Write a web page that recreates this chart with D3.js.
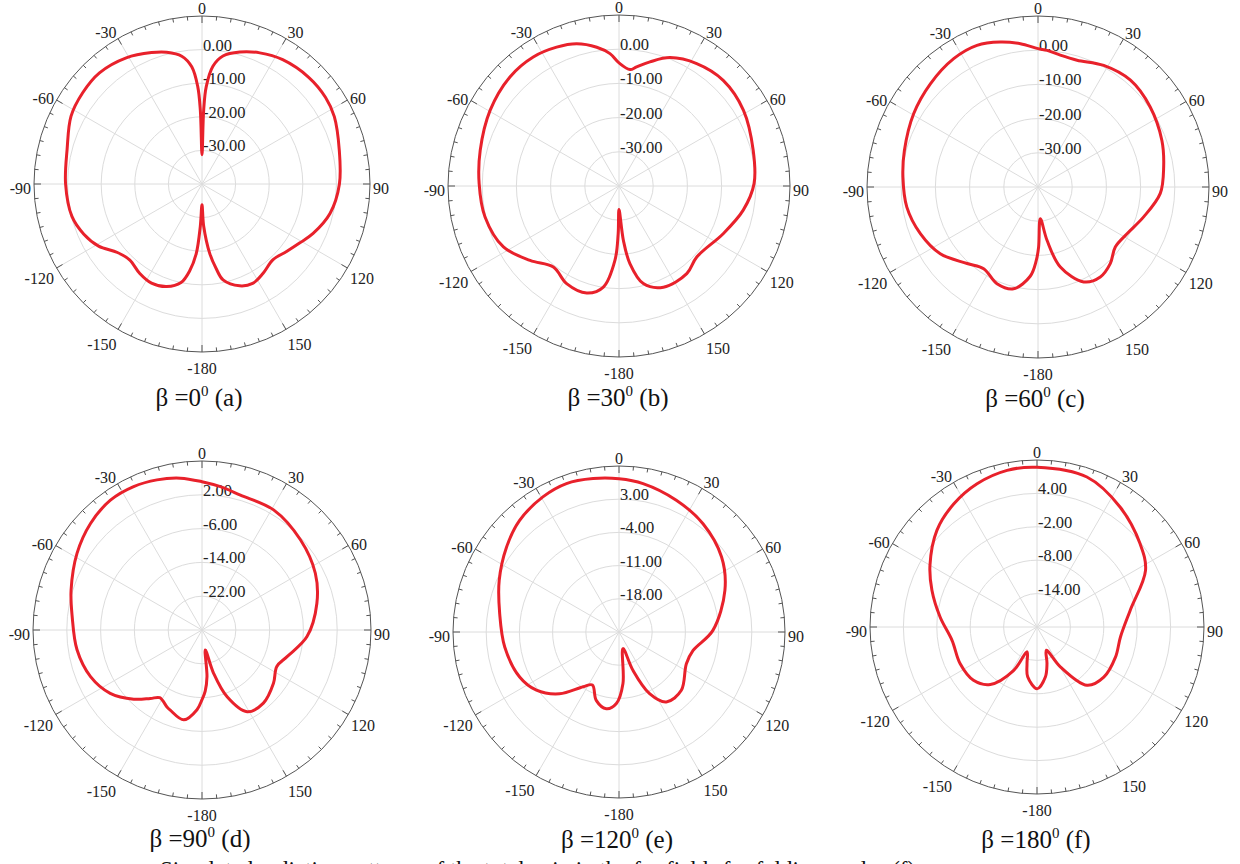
<!DOCTYPE html>
<html>
<head>
<meta charset="utf-8">
<script src="https://cdn.jsdelivr.net/npm/d3@7"></script>
<style>
  html, body { margin: 0; padding: 0; background: #fff; }
  svg { display: block; font-family: "Liberation Serif", "Times New Roman", serif; }
</style>
</head>
<body>
<svg id="chart" width="1240" height="864"></svg>
<script>
// gain (dB) against angle (deg)
const patternA = [
  [-180, -33.8], [-177.7, -27.4], [-175.3, -19.3], [-172, -14], [-168, -10], [-161, -7.7],
  [-153, -6.9], [-145, -7.6], [-136.3, -8.8], [-129, -7.6], [-121, -4.1], [-113, -1.8],
  [-104, -0.1], [-90, 0.6], [-75.6, 1.45], [-62.6, 3.9], [-52.6, 4.7], [-42.7, 5.0], [-31, 3.8],
  [-21, 1.9], [-15, 0.6], [-9, -1.5], [-5, -5], [-2.5, -11], [-1.3, -18], [0, -31.3],
  [1.3, -18], [2.5, -11], [5.3, -4.8], [9.3, -1.4], [16, 0.85], [23.8, 2.65], [33, 4.1],
  [45, 4.9], [55, 4.9], [63, 4.2], [76, 2.1], [90, 0.9], [103, -0.9], [114, -3.8],
  [121, -6.0], [128.6, -7.8], [136.8, -9.1], [145.6, -7.8], [153, -6.8], [159.7, -7.7],
  [167.6, -10.8], [170.5, -14.5], [173.7, -19.3], [177.7, -27.4]
]
const patternB = [
  [-180, -33.1], [-179, -26], [-176.9, -18.3], [-171.2, -10.1], [-163.2, -7.3], [-151.8, -7.6],
  [-141, -9.5], [-129.9, -6.1], [-117.8, -1.8], [-103, 0.2], [-89, 0.9], [-75.6, 1.9],
  [-59.6, 3.7], [-45, 5.1], [-33.6, 5.3], [-24.2, 4.5], [-16.6, 3.4], [-9.1, 1.1], [-3.9, -1.2],
  [0, -4.0], [5.4, -5.8], [8.4, -4.8], [14, -2.6], [21.7, 0.4], [32.4, 2.4], [44.6, 3.4],
  [58.7, 2.6], [75.1, 0.6], [89, -0.5], [101, -3.0], [114.6, -6.5], [132.4, -9.2],
  [142.3, -7.6], [156.3, -7.7], [166, -10.6], [172, -17.1], [175.4, -24.1]
]
const patternC = [
  [-178.7, -18.6], [-175, -13.8], [-166.5, -9.4], [-157, -9.3], [-146.4, -11.3], [-137.2, -9.5],
  [-124.3, -5.4], [-111.6, -3.0], [-98.7, -1.2], [-85.8, -0.4], [-74.7, 0.5], [-59.5, 2.2],
  [-46.2, 3.6], [-33.3, 4.9], [-23.3, 5.1], [-14.6, 3.8], [-7, 2.2], [0, 0.45], [3.8, 0.05],
  [9.6, -0.9], [17.1, -1.2], [28.4, 0.4], [40.9, 1.3], [54.5, 0.3], [69.4, -1.3], [81, -2.8],
  [93, -4.2], [105.8, -7.9], [117.7, -10.6], [127.8, -11.4], [136.7, -9.2], [145.3, -8.0],
  [154.3, -9.2], [164.4, -15.7], [170.4, -24.2], [175.8, -30.7], [179.4, -22.5]
]
const patternD = [
  [-180, -13.5], [-176.4, -11.1], [-168.5, -8.3], [-158.4, -9.6], [-155.5, -10.0], [-148, -11.1],
  [-143, -9.7], [-135.4, -7.0], [-124.6, -3.6], [-112.7, -1.4], [-99, -0.05], [-84, 0.9],
  [-73, 2.4], [-58.5, 4.7], [-46.3, 6.5], [-35.2, 7.6], [-25.5, 7.6], [-16.7, 7.1], [-8.1, 6.3],
  [0, 5.1], [7.3, 4.2], [15.9, 3.2], [30.8, 3.1], [47.5, 1.6], [63.4, 0], [77, -2.1],
  [93.6, -5.1], [107.4, -8.9], [116, -10.3], [126.7, -8.9], [140, -7.4], [151.1, -7.9],
  [159.4, -13.1], [165, -19.4], [170.5, -25.2], [173.9, -18.9], [177, -15.5]
]
const patternE = [
  [-177.9, -9.9], [-170.6, -8.6], [-161.6, -9.8], [-153.3, -12.5], [-146.8, -11.2], [-136.1, -6.9],
  [-125.2, -3.7], [-114.4, -2.0], [-97.5, -0.7], [-81.3, 0.45], [-66.7, 2.5], [-53, 4.7],
  [-41.7, 6.5], [-29.4, 7.7], [-19.5, 8.2], [-9.6, 7.8], [0, 7.3], [9.2, 6.7], [23.5, 5.3],
  [37.8, 3.9], [53.8, 1.8], [68.5, -1.0], [89, -5.2], [104, -8.9], [115.2, -9.3], [133.1, -7.0],
  [145.9, -7.2], [153.6, -10.5], [160, -16.4], [166.5, -21.4], [175.6, -14.1]
]
const patternF = [
  [-180, -8.9], [-169.4, -10.9], [-164.7, -13.2], [-158.2, -15.2], [-151.7, -11.1], [-140.9, -6.7],
  [-130, -5.1], [-115.6, -4.7], [-98.9, -4.55], [-84.1, -2.5], [-70.7, 0.0], [-60, 2.2],
  [-46, 5.0], [-34, 6.7], [-22.7, 7.9], [-10.8, 8.65], [0, 8.7], [18.4, 8.4], [34.8, 6.2],
  [51.1, 3.8], [62.4, 2.0], [79.9, -3.0], [96.8, -4.9], [111, -4.9], [126.9, -5.0],
  [139.4, -6.2], [149.7, -11.7], [158.2, -15.5], [164.7, -13.2], [170.5, -10.9]
]

// radial grid labels of each panel (dB)
const ringsA = [-30, -20, -10, 0]
const ringsB = [-30, -20, -10, 0]
const ringsC = [-30, -20, -10, 0]
const ringsD = [-22, -14, -6, 2]
const ringsE = [-18, -11, -4, 3]
const ringsF = [-14, -8, -2, 4]

const angleTicks = [0, 30, 60, 90, 120, 150, 180, -150, -120, -90, -60, -30]
const angleLabels = ['0', '30', '60', '90', '120', '150', '-180', '-150', '-120', '-90', '-60', '-30']
const betas = ['0', '30', '60', '90', '120', '180']
const letters = ['a', 'b', 'c', 'd', 'e', 'f']
const footnote = 'Simulated radiation patterns of the total gain in the far-fields for folding angles (f)'

const patterns = [patternA, patternB, patternC, patternD, patternE, patternF]
const rings = [ringsA, ringsB, ringsC, ringsD, ringsE, ringsF]

// panel frames: centre, outer radius, caption baseline
const frames = [
  { cx: 202, cy: 184, R: 168, capX: 199, capY: 406 },
  { cx: 619, cy: 186, R: 171, capX: 618, capY: 406 },
  { cx: 1038, cy: 187, R: 171, capX: 1035, capY: 407 },
  { cx: 202, cy: 630, R: 169, capX: 200, capY: 847 },
  { cx: 619, cy: 632, R: 166, capX: 617, capY: 848 },
  { cx: 1037, cy: 627, R: 167, capX: 1036, capY: 848 }
]

const svg = d3.select('#chart')
svg.append('rect').attr('width', 1240).attr('height', 864).attr('fill', '#fff')

const angle = d3.scaleLinear().domain([-180, 180]).range([-Math.PI, Math.PI])
const rad = deg => deg * Math.PI / 180

frames.forEach((f, i) => drawPanel(f, patterns[i], rings[i], betas[i], letters[i]))

// caption line of the page below, mostly cut off by the bottom edge
svg.append('text')
  .attr('x', 160).attr('y', 877)
  .attr('font-size', 23).attr('fill', '#111')
  .text(footnote)

function drawPanel (f, data, ringVals, beta, letter) {
  const step = ringVals[1] - ringVals[0]
  const r = d3.scaleLinear()
    .domain([ringVals[0] - step, ringVals[ringVals.length - 1] + step])
    .range([0, f.R])
    .clamp(true)

  const g = svg.append('g').attr('transform', `translate(${f.cx},${f.cy})`)

  g.selectAll('circle.ring')
    .data(ringVals)
    .join('circle')
    .attr('class', 'ring')
    .attr('r', d => r(d))
    .attr('fill', 'none')
    .attr('stroke', '#dcdcdc')

  g.selectAll('line.spoke')
    .data(d3.range(0, 360, 30))
    .join('line')
    .attr('class', 'spoke')
    .attr('x2', d => f.R * Math.sin(rad(d)))
    .attr('y2', d => -f.R * Math.cos(rad(d)))
    .attr('stroke', '#dcdcdc')

  g.append('circle')
    .attr('r', f.R)
    .attr('fill', 'none')
    .attr('stroke', '#555')

  g.selectAll('line.tick')
    .data(d3.range(0, 360, 5))
    .join('line')
    .attr('class', 'tick')
    .attr('x1', d => f.R * Math.sin(rad(d)))
    .attr('y1', d => -f.R * Math.cos(rad(d)))
    .attr('x2', d => (f.R - (d % 30 ? 4 : 7)) * Math.sin(rad(d)))
    .attr('y2', d => -(f.R - (d % 30 ? 4 : 7)) * Math.cos(rad(d)))
    .attr('stroke', '#555')

  g.selectAll('text.angle')
    .data(angleTicks)
    .join('text')
    .attr('class', 'angle')
    .attr('font-size', 16)
    .attr('fill', '#222')
    .attr('text-anchor', d => {
      const s = Math.sin(rad(d))
      return Math.abs(s) < 0.05 ? 'middle' : (s > 0 ? 'start' : 'end')
    })
    .attr('x', d => (f.R + 3) * Math.sin(rad(d)))
    .attr('y', d => -(f.R + 2) * Math.cos(rad(d)) + 10 * (1 - Math.cos(rad(d))))
    .text((d, j) => angleLabels[j])

  g.selectAll('text.ringlabel')
    .data(ringVals)
    .join('text')
    .attr('class', 'ringlabel')
    .attr('font-size', 16.5)
    .attr('fill', '#222')
    .attr('x', 1)
    .attr('y', d => -r(d) + 1)
    .text(d => d.toFixed(2))

  const line = d3.lineRadial()
    .angle(d => angle(d[0]))
    .radius(d => r(d[1]))
    .curve(d3.curveCatmullRomClosed.alpha(0.5))

  g.append('path')
    .datum(data)
    .attr('d', line)
    .attr('fill', 'none')
    .attr('stroke', '#e8212b')
    .attr('stroke-width', 3)
    .attr('stroke-linejoin', 'round')

  const cap = svg.append('text')
    .attr('x', f.capX).attr('y', f.capY)
    .attr('text-anchor', 'middle')
    .attr('font-size', 25)
    .attr('fill', '#111')
  cap.append('tspan').text(`β =${beta}`)
  cap.append('tspan').attr('font-size', 15).attr('dy', -10).text('0')
  cap.append('tspan').attr('dy', 10).text(` (${letter})`)
}
</script>
</body>
</html>
